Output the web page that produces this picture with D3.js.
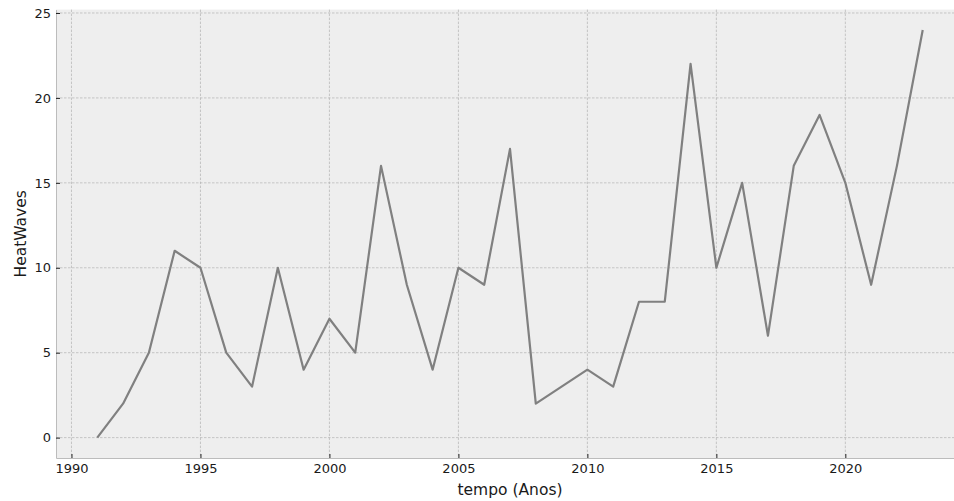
<!DOCTYPE html>
<html>
<head>
<meta charset="utf-8">
<script src="https://cdn.jsdelivr.net/npm/d3@7"></script>
<style>
  body { margin: 0; background: #fff; overflow: hidden; }
  svg { display: block; font-family: "DejaVu Sans", sans-serif; }
</style>
</head>
<body>
<script>
const years = [1991,1992,1993,1994,1995,1996,1997,1998,1999,2000,2001,2002,2003,2004,2005,2006,2007,2008,2009,2010,2011,2012,2013,2014,2015,2016,2017,2018,2019,2020,2021,2022,2023];
const heatwaves = [0,2,5,11,10,5,3,10,4,7,5,16,9,4,10,9,17,2,3,4,3,8,8,22,10,15,6,16,19,15,9,16,24];
const xTicks = [1990,1995,2000,2005,2010,2015,2020];
const yTicks = [0,5,10,15,20,25];

const w = 954, h = 501;
const padL = 56, padR = 964, padT = 9.6, padB = 458;

const svg = d3.select("body").append("svg")
  .attr("width", w)
  .attr("height", h);

const x = d3.scaleLinear().domain([1989.4, 2024.6]).range([padL, padR]);
const y = d3.scaleLinear().domain([-1.2, 25.2]).range([padB, padT]);

// plot background
svg.append("rect")
  .attr("x", padL).attr("y", padT)
  .attr("width", padR - padL).attr("height", padB - padT)
  .attr("fill", "#eeeeee");

// grid
svg.append("g").selectAll("line").data(xTicks).enter().append("line")
  .attr("x1", d => x(d)).attr("x2", d => x(d))
  .attr("y1", padT).attr("y2", padB)
  .attr("stroke", "#b2b2b2").attr("stroke-width", 0.7)
  .attr("stroke-dasharray", "2.5,1.5");
svg.append("g").selectAll("line").data(yTicks).enter().append("line")
  .attr("x1", padL).attr("x2", padR)
  .attr("y1", d => y(d)).attr("y2", d => y(d))
  .attr("stroke", "#b2b2b2").attr("stroke-width", 0.7)
  .attr("stroke-dasharray", "2.5,1.5");

// line
const data = years.map((d, i) => ({ year: d, v: heatwaves[i] }));
svg.append("path")
  .datum(data)
  .attr("fill", "none")
  .attr("stroke", "#808080")
  .attr("stroke-width", 2.2)
  .attr("stroke-linejoin", "round")
  .attr("d", d3.line().x(d => x(d.year)).y(d => y(d.v)));

// axes (ticks inward)
const xAxis = d3.axisBottom(x).tickValues(xTicks).tickFormat(d3.format("d"))
  .tickSizeInner(-4).tickSizeOuter(0).tickPadding(6);
const gx = svg.append("g").attr("transform", `translate(0,${padB})`).call(xAxis)
  .attr("font-family", "DejaVu Sans").attr("font-size", 13);
gx.select(".domain").attr("stroke", "#bcbcbc").attr("stroke-width", 1);
gx.selectAll(".tick line").attr("stroke", "#222").attr("stroke-width", 1);
gx.selectAll("text").attr("fill", "#1a1a1a");

const yAxis = d3.axisLeft(y).tickValues(yTicks)
  .tickSizeInner(-4).tickSizeOuter(0).tickPadding(5);
const gy = svg.append("g").attr("transform", `translate(${padL},0)`).call(yAxis)
  .attr("font-family", "DejaVu Sans").attr("font-size", 13);
gy.select(".domain").attr("stroke", "#bcbcbc").attr("stroke-width", 1);
gy.selectAll(".tick line").attr("stroke", "#222").attr("stroke-width", 1);
gy.selectAll("text").attr("fill", "#1a1a1a");

// labels
svg.append("text")
  .attr("x", (padL + padR) / 2).attr("y", 495)
  .attr("text-anchor", "middle")
  .attr("fill", "#1a1a1a")
  .style("font-size", "15.5px")
  .text("tempo (Anos)");

svg.append("text")
  .attr("transform", `translate(26,${(padT + padB) / 2}) rotate(-90)`)
  .attr("text-anchor", "middle")
  .attr("fill", "#1a1a1a")
  .style("font-size", "15.5px")
  .text("HeatWaves");
</script>
</body>
</html>
